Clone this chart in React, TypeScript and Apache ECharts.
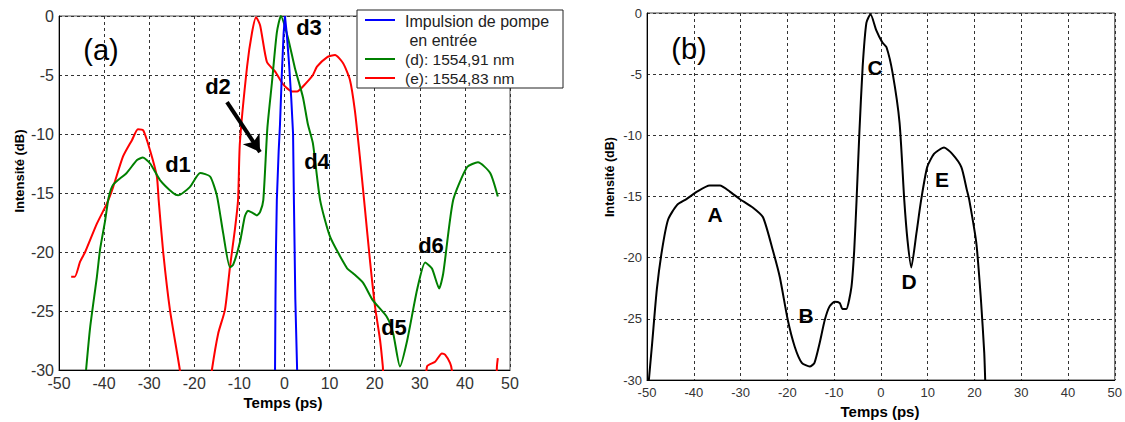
import React, { useEffect, useRef } from "react";
import * as echarts from "echarts";

// ---------- data ----------
const xTicks = [-50, -40, -30, -20, -10, 0, 10, 20, 30, 40, 50];
const yTicks = [-30, -25, -20, -15, -10, -5, 0];

// panel (a): input pump pulse
const pumpPulse: [number, number][] = [
  [-2.1, -30], [-2.0, -24], [-1.9, -20], [-1.7, -15.6], [-1.3, -11.5], [-1.0, -9.2],
  [-0.6, -5], [-0.2, -1.5], [0.1, 0], [0.5, -1.5], [1.0, -4], [1.5, -7], [1.9, -10],
  [2.1, -16], [2.4, -24], [2.8, -30],
];
// panel (a): (d) 1554,91 nm
const seriesD: [number, number][] = [
  [-44.0, -30], [-43.1, -26.4], [-41.6, -22.1], [-40.9, -19.8], [-39.8, -17.4], [-39.0, -15.4],
  [-38.0, -14.3], [-35.0, -13.3], [-32.7, -12.2], [-31.4, -12.0], [-29.8, -12.5], [-27.6, -13.9],
  [-24.7, -15.0], [-23.6, -15.2], [-21.0, -14.5], [-18.7, -13.3], [-16.5, -13.6], [-15.0, -15.2],
  [-13.6, -18.4], [-12.1, -21.3], [-11.4, -21.1], [-9.9, -19.2], [-8.8, -17.0], [-8.1, -16.5],
  [-7.0, -16.7], [-6.1, -16.9], [-5.4, -16.6], [-4.7, -15.6], [-3.8, -9.5], [-2.8, -5.7],
  [-1.7, -1.4], [-0.8, 0], [0.8, -1.9], [2.3, -4.4], [4.1, -6.9], [5.2, -9.2], [6.3, -10.8],
  [7.9, -15.6], [10.1, -18.7], [13.9, -21.4], [15.2, -21.8], [17.4, -22.6], [19.6, -24.1],
  [22.7, -25.5], [24.1, -26.9], [25.6, -29.7], [27.2, -27.5], [29.4, -23.2], [31.2, -20.9],
  [32.7, -21.4], [34.3, -23.1], [35.2, -21.8], [37.4, -15.6], [40.5, -12.8], [42.9, -12.4],
  [45.6, -13.3], [47.3, -15.3],
];
// panel (a): (e) 1554,83 nm
const seriesE: [number, number][] = [
  [-47.3, -22.1], [-46.5, -22.1], [-45.3, -20.8], [-44.2, -20.0], [-41.6, -17.6], [-39.4, -15.9],
  [-38.0, -14.5], [-35.8, -11.9], [-33.8, -10.5], [-32.5, -9.6], [-31.3, -9.7], [-29.8, -11.4],
  [-28.3, -13.6], [-27.9, -15.6], [-26.9, -20.0], [-25.4, -24.9], [-23.2, -30], [-22.6, -32],
  [-16.7, -32], [-16.1, -30], [-14.7, -26.9], [-13.2, -24.9], [-12.1, -21.3], [-11.0, -18.1],
  [-10.3, -15.6], [-9.9, -10.8], [-8.3, -4.3], [-7.2, -1.4], [-6.3, -0.1], [-5.4, -0.8],
  [-3.9, -3.9], [-2.1, -4.7], [-0.3, -5.8], [1.7, -6.4], [2.8, -6.4], [4.5, -5.8], [6.3, -5.0],
  [7.2, -4.3], [9.4, -3.5], [11.2, -3.3], [13.0, -4.0], [14.5, -5.4], [15.6, -8.0], [16.7, -11.9],
  [17.8, -16.2], [19.0, -20.9], [20.1, -24.7], [21.2, -27.5], [21.8, -29.7], [22.3, -32],
  [31.0, -32], [31.6, -29.7], [33.4, -29.3], [34.9, -28.6], [35.6, -28.7], [36.7, -29.4],
  [37.1, -30], [37.4, -32], [46.8, -32], [47.1, -29.7], [47.3, -29.0],
];
// panel (b): black curve
const seriesB: [number, number][] = [
  [-49.7, -30.5], [-49.6, -30], [-48.9, -27], [-47.9, -22.6], [-46.8, -19.4], [-45.5, -16.9],
  [-43.6, -15.7], [-41.5, -15.2], [-39.3, -14.6], [-36.6, -14.1], [-34.4, -14.1], [-32.3, -14.6],
  [-30.2, -15.2], [-27.4, -15.9], [-25.2, -16.7], [-23.1, -19.4], [-21.6, -21.6], [-19.9, -25.1],
  [-18.4, -27.3], [-16.9, -28.6], [-15.2, -28.9], [-14.2, -28.6], [-13.1, -27.0], [-12.0, -25.1],
  [-11.0, -24.0], [-9.9, -23.6], [-8.8, -23.7], [-8.2, -24.2], [-7.4, -24.2], [-6.3, -22.4],
  [-5.7, -19.4], [-5.2, -15.3], [-4.6, -9.8], [-3.9, -4.4], [-3.1, -0.8], [-2.2, -0.1],
  [-1.0, -1.4], [0.3, -2.4], [1.2, -2.8], [2.5, -4.9], [4.0, -9.0], [5.0, -15.3], [5.7, -18.6],
  [6.5, -20.8], [7.6, -18.0], [8.6, -15.3], [9.9, -12.6], [11.4, -11.5], [13.5, -11.0],
  [15.2, -11.5], [17.2, -12.6], [18.4, -14.5], [18.9, -15.3], [20.4, -18.8], [21.4, -23.5],
  [22.1, -27.8], [22.3, -30], [22.35, -30.5],
];
// arrow pointing at d2 (data coordinates of panel a)
const arrowFrom: [number, number] = [-12.75, -7.3];
const arrowTo: [number, number] = [-5.43, -11.53];

const legendNames = ["Impulsion de pompe", " en entrée", "(d): 1554,91 nm", "(e): 1554,83 nm"];
const colorPump = "#0000ff";
const colorD = "#008000";
const colorE = "#ff0000";

const FONT = "Liberation Sans";

function axisX(gridIndex: number, fontSize: number, margin: number) {
  return {
    gridIndex,
    type: "value",
    min: xTicks[0],
    max: xTicks[xTicks.length - 1],
    interval: 10,
    axisLine: { show: true, onZero: false, lineStyle: { color: "#000", width: 1 } },
    axisTick: { show: false },
    axisLabel: { fontSize, color: "#333", margin, fontFamily: FONT },
    splitLine: { show: true, lineStyle: { type: [3, 3], color: "#333", width: 1 } },
  };
}
function axisY(gridIndex: number, fontSize: number, margin: number) {
  return {
    gridIndex,
    type: "value",
    min: yTicks[0],
    max: yTicks[yTicks.length - 1],
    interval: 5,
    axisLine: { show: true, onZero: false, lineStyle: { color: "#000", width: 1 } },
    axisTick: { show: false },
    axisLabel: { fontSize, color: "#333", margin, fontFamily: FONT },
    splitLine: { show: true, lineStyle: { type: [3, 3], color: "#333", width: 1 } },
  };
}

function txt(x: number, y: number, text: string, size: number, bold: boolean, extra: any = {}) {
  return {
    type: "text",
    x,
    y,
    z: 100,
    ...extra,
    style: {
      text,
      fontSize: size,
      fontWeight: bold ? "bold" : "normal",
      fontFamily: FONT,
      fill: "#000",
      align: "center",
      verticalAlign: "middle",
      textAlign: "center",
      textVerticalAlign: "middle",
    },
  };
}
function legendText(x: number, y: number, text: string, size: number) {
  return {
    type: "text",
    x,
    y,
    z: 101,
    style: {
      text,
      fontSize: size,
      fontFamily: FONT,
      fill: "#222",
      align: "left",
      verticalAlign: "middle",
      textAlign: "left",
      textVerticalAlign: "middle",
    },
  };
}

export default function App() {
  const ref = useRef<HTMLDivElement>(null);
  useEffect(() => {
    if (!ref.current) return;
    const chart = echarts.init(ref.current, undefined, { renderer: "svg" });
    const option: any = {
      animation: false,
      backgroundColor: "#fff",
      textStyle: { fontFamily: FONT },
      grid: [
        { left: 59, top: 16, width: 451, height: 354, show: true, borderColor: "#555", borderWidth: 1 },
        { left: 647, top: 13, width: 469, height: 367, show: true, borderColor: "#444", borderWidth: 1 },
      ],
      xAxis: [axisX(0, 16, 5), axisX(1, 13, 6)],
      yAxis: [axisY(0, 16, 5), axisY(1, 13, 5)],
      series: [
        {
          name: "(e): 1554,83 nm",
          type: "line",
          xAxisIndex: 0,
          yAxisIndex: 0,
          data: seriesE,
          showSymbol: false,
          smooth: 0.2,
          clip: true,
          lineStyle: { color: colorE, width: 2 },
          itemStyle: { color: colorE },
          z: 2,
        },
        {
          name: "(d): 1554,91 nm",
          type: "line",
          xAxisIndex: 0,
          yAxisIndex: 0,
          data: seriesD,
          showSymbol: false,
          smooth: 0.2,
          clip: true,
          lineStyle: { color: colorD, width: 2 },
          itemStyle: { color: colorD },
          z: 3,
          markLine: {
            silent: true,
            symbol: ["none", "arrow"],
            symbolSize: [15, 16],
            label: { show: false },
            lineStyle: { color: "#000", width: 4, type: "solid" },
            emphasis: { disabled: true },
            data: [[{ coord: arrowFrom }, { coord: arrowTo }]],
          },
        },
        {
          name: "Impulsion de pompe en entrée",
          type: "line",
          xAxisIndex: 0,
          yAxisIndex: 0,
          data: pumpPulse,
          showSymbol: false,
          clip: true,
          lineStyle: { color: colorPump, width: 2 },
          itemStyle: { color: colorPump },
          z: 4,
        },
        {
          name: "b",
          type: "line",
          xAxisIndex: 1,
          yAxisIndex: 1,
          data: seriesB,
          showSymbol: false,
          smooth: 0.2,
          clip: true,
          lineStyle: { color: "#000", width: 2 },
          itemStyle: { color: "#000" },
        },
      ],
      graphic: [
        // panel labels
        txt(101, 50, "(a)", 29, false),
        txt(689, 49, "(b)", 29, false),
        // peak labels panel a
        txt(178, 164, "d1", 22, true),
        txt(218, 86, "d2", 22, true),
        txt(309, 27, "d3", 22, true),
        txt(317, 161, "d4", 22, true),
        txt(394, 327, "d5", 22, true),
        txt(431, 245, "d6", 22, true),
        // peak labels panel b
        txt(715, 214, "A", 21, true),
        txt(806, 315, "B", 21, true),
        txt(875, 67, "C", 21, true),
        txt(909, 281, "D", 21, true),
        txt(942, 179, "E", 21, true),
        // axis names
        txt(19, 171, "Intensité (dB)", 13, true, { rotation: Math.PI / 2 }),
        txt(610, 177, "Intensité (dB)", 12.5, true, { rotation: Math.PI / 2 }),
        txt(283, 402, "Temps (ps)", 15, true),
        txt(880, 411, "Temps (ps)", 15, true),
        // legend box
        {
          type: "rect",
          z: 99,
          shape: { x: 357, y: 10, width: 206, height: 78 },
          style: { fill: "#fff", stroke: "#222", lineWidth: 1 },
        },
        { type: "line", z: 101, shape: { x1: 365, y1: 20, x2: 395, y2: 20 }, style: { stroke: colorPump, lineWidth: 2 } },
        { type: "line", z: 101, shape: { x1: 365, y1: 59, x2: 395, y2: 59 }, style: { stroke: colorD, lineWidth: 2 } },
        { type: "line", z: 101, shape: { x1: 365, y1: 78, x2: 395, y2: 78 }, style: { stroke: colorE, lineWidth: 2 } },
        legendText(405, 21, legendNames[0], 16),
        legendText(405, 40, legendNames[1], 16),
        legendText(405, 59, legendNames[2], 15.5),
        legendText(405, 78, legendNames[3], 15.5),
      ],
    };
    chart.setOption(option);
    return () => chart.dispose();
  }, []);
  return (
    <div
      ref={ref}
      style={{ position: "fixed", left: 0, top: 0, width: 1125, height: 422, background: "#fff" }}
    />
  );
}
